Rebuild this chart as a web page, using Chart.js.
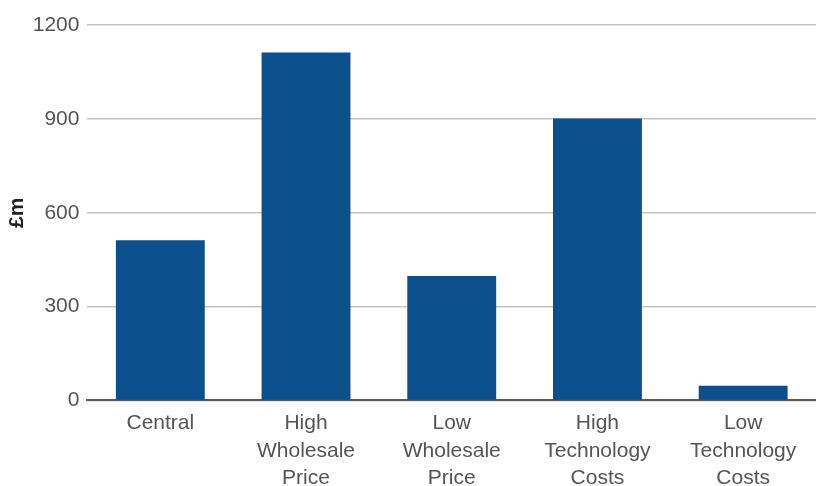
<!DOCTYPE html>
<html>
<head>
<meta charset="utf-8">
<script src="https://cdn.jsdelivr.net/npm/chart.js@4"></script>
<style>
  html, body { margin: 0; padding: 0; background: #fff; }
  #wrap { width: 816px; height: 486px; }
</style>
</head>
<body>
<div id="wrap"><canvas id="chart"></canvas></div>
<script>
// ===== DATA =====
const categories = [
  ['Central'],
  ['High', 'Wholesale', 'Price'],
  ['Low', 'Wholesale', 'Price'],
  ['High', 'Technology', 'Costs'],
  ['Low', 'Technology', 'Costs'],
];
const values = [512, 1112, 398, 901, 47];
const yTicks = [0, 300, 600, 900, 1200];

// ===== COLORS =====
const COLORS = {
  bar: '#0b4f8d',
  grid: '#c4c4c4',
  zero: '#5a5a5a',
  text: '#555555',
};

new Chart(document.getElementById('chart'), {
  type: 'bar',
  data: {
    labels: categories,
    datasets: [{
      label: '£m',
      data: values,
      backgroundColor: COLORS.bar,
      barPercentage: 0.61,
      categoryPercentage: 1,
    }],
  },
  options: {
    responsive: true,
    maintainAspectRatio: false,
    animation: false,
    layout: { padding: { top: 25, right: 0, left: 9, bottom: -15 } },
    plugins: {
      legend: { display: false },
      tooltip: { enabled: false },
    },
    scales: {
      x: {
        grid: { display: false, drawTicks: false },
        border: { display: true, color: COLORS.zero, width: 2 },
        ticks: {
          color: COLORS.text,
          font: { family: 'Liberation Sans', size: 21, lineHeight: 1.31 },
          padding: 9,
          maxRotation: 0,
          autoSkip: false,
        },
      },
      y: {
        min: 0,
        max: 1200,
        afterBuildTicks: (axis) => { axis.ticks = yTicks.map(v => ({ value: v })); },
        grid: {
          color: COLORS.grid,
          lineWidth: 1.5,
          drawTicks: false,
        },
        border: { display: false },
        ticks: {
          color: COLORS.text,
          font: { family: 'Liberation Sans', size: 21 },
          padding: 8,
          callback: (v) => String(v),
        },
        title: {
          display: true,
          text: '£m',
          color: '#222',
          font: { family: 'Liberation Sans', size: 21, weight: 'bold', lineHeight: 0.75 },
          padding: { top: 0, bottom: 0 },
        },
      },
    },
  },
});
</script>
</body>
</html>
